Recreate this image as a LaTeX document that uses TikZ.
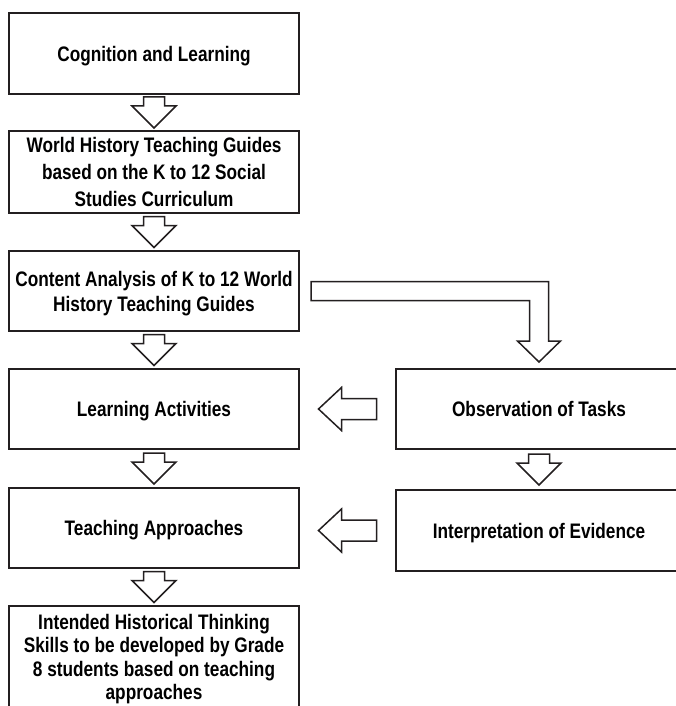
\documentclass[tikz,border=0pt]{standalone}
\usepackage{fontspec}
\setmainfont{Liberation Sans}[FakeStretch=0.82]
\usetikzlibrary{calc}
\definecolor{ink}{HTML}{231F20}
\tikzset{
  box/.style={draw=ink, line width=2.3pt, outer sep=0pt, inner sep=2pt,
    minimum width=290pt, align=center, text=black,
    font=\bfseries\fontsize{21}{27}\selectfont},
  onebox/.style={box, text depth=0pt},
  blockarrow/.style={draw=ink, line width=1.5pt, fill=white, line join=miter},
  dnarrow/.pic={\draw[blockarrow] (-10.5,-15.5) -- (10.5,-15.5) -- (10.5,-6.5) -- (22,-6.5) -- (0,15.5) -- (-22,-6.5) -- (-10.5,-6.5) -- cycle;},
  lfarrow/.pic={\draw[blockarrow] (29,-10.5) -- (29,10.5) -- (-6,10.5) -- (-6,21.5) -- (-29,0) -- (-6,-21.5) -- (-6,-10.5) -- cycle;}
}
\begin{document}
\begin{tikzpicture}[x=1pt,y=-1pt]
\useasboundingbox (0,0) rectangle (676,706);
\clip (0,0) rectangle (676,706);
\node[onebox, minimum height=81pt] (b1) at (154,53.5) {Cognition and Learning};
\node[box, minimum height=82pt] (b2) at (154,172) {World History Teaching Guides\\based on the K to 12 Social\\Studies Curriculum};
\node[onebox, minimum height=80pt, font=\bfseries\fontsize{21}{25}\selectfont] (b3) at (154,291) {Content Analysis of K to 12 World\\History Teaching Guides};
\node[onebox, minimum height=80pt] (b4) at (154,409) {Learning Activities};
\node[onebox, minimum height=80pt] (b5) at (154,528) {Teaching Approaches};
\node[box, minimum height=106pt, font=\bfseries\fontsize{21}{23.5}\selectfont] (b6) at (154,659) {Intended Historical Thinking\\Skills to be developed by Grade\\8 students based on teaching\\approaches};
\node[onebox, minimum width=286pt, minimum height=80pt] (r1) at (539,409) {Observation of Tasks};
\node[onebox, minimum width=286pt, minimum height=81pt] (r2) at (539,530.5) {Interpretation of Evidence};
\pic at ($(b1.south)!0.5!(b2.north)$) {dnarrow};
\pic at ($(b2.south)!0.5!(b3.north)$) {dnarrow};
\pic at ($(b3.south)!0.5!(b4.north)$) {dnarrow};
\pic at ($(b4.south)!0.5!(b5.north)$) {dnarrow};
\pic at ($(b5.south)!0.5!(b6.north)$) {dnarrow};
\pic at ($(r1.south)!0.5!(r2.north)$) {dnarrow};
\pic at ($(b4.east)!0.5!(r1.west)$) {lfarrow};
\pic at ($(b5.east |- r2.west)!0.5!(r2.west)$) {lfarrow};
\draw[blockarrow] let \p1=(b3.east), \p2=(r1.north) in
  (\x1+12pt,\y1+9.5pt) -- (\x2+9.5pt,\y1+9.5pt) -- (\x2+9.5pt,\y2+28pt) -- (\x2+21.5pt,\y2+28pt)
  -- (\x2,\y2+7pt) -- (\x2-21.5pt,\y2+28pt) -- (\x2-9.5pt,\y2+28pt) -- (\x2-9.5pt,\y1-9.5pt)
  -- (\x1+12pt,\y1-9.5pt) -- cycle;
\end{tikzpicture}
\end{document}
